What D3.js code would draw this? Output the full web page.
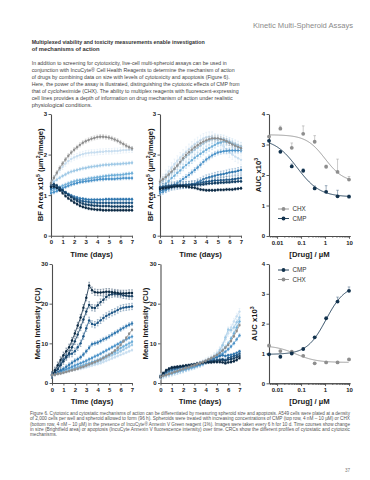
<!DOCTYPE html>
<html>
<head>
<meta charset="utf-8">
<script src="https://cdn.jsdelivr.net/npm/d3@7/dist/d3.min.js"></script>
<style>
  body { margin: 0; background: #fff; }
  svg { display: block; }
</style>
</head>
<body>
<div id="chart"></div>
<script>
// time points, every 6 h over 7 days
var days = [0, 0.25, 0.5, 0.75, 1, 1.25, 1.5, 1.75, 2, 2.25, 2.5, 2.75, 3, 3.25, 3.5,
  3.75, 4, 4.25, 4.5, 4.75, 5, 5.25, 5.5, 5.75, 6, 6.25, 6.5, 6.75, 7];

// series order: vehicle (grey), then lowest -> highest concentration
var seriesColors = ["#8e8e8e", "#c8def0", "#9fc9e6", "#6eaed8", "#4b93c9", "#2e76ae", "#1d5686", "#143f63", "#0c2a44"];
var errColors = ["#b4b4b4", "#dbe9f5", "#c3ddef", "#a0c9e6", "#88b7dc", "#6f9dc5", "#5d84a7", "#50708f", "#405b75"];

// brightfield area x10^5, CMP
var bfCMP = [
  [1.30,1.43,1.55,1.67,1.78,1.88,1.97,2.05,2.12,2.18,2.24,2.29,2.33,2.36,2.39,2.41,2.43,2.44,2.44,2.43,2.42,2.40,2.37,2.34,2.30,2.26,2.22,2.18,2.15],
  [1.30,1.42,1.52,1.62,1.70,1.78,1.84,1.89,1.93,1.96,1.99,2.01,2.03,2.04,2.05,2.05,2.06,2.07,2.07,2.08,2.08,2.08,2.09,2.09,2.10,2.11,2.11,2.12,2.12],
  [1.28,1.33,1.38,1.43,1.47,1.51,1.55,1.58,1.60,1.62,1.64,1.66,1.67,1.69,1.70,1.71,1.72,1.73,1.74,1.75,1.75,1.76,1.76,1.77,1.77,1.78,1.78,1.79,1.80],
  [1.10,1.13,1.16,1.20,1.23,1.26,1.29,1.32,1.34,1.36,1.37,1.38,1.39,1.41,1.42,1.43,1.44,1.45,1.46,1.47,1.48,1.49,1.49,1.50,1.50,1.51,1.52,1.53,1.54],
  [1.05,1.07,1.10,1.14,1.17,1.20,1.23,1.26,1.28,1.30,1.32,1.33,1.34,1.35,1.36,1.37,1.38,1.39,1.39,1.40,1.40,1.40,1.40,1.41,1.41,1.42,1.42,1.42,1.42],
  [1.15,1.18,1.18,1.14,1.10,1.06,1.02,0.99,0.96,0.94,0.92,0.91,0.90,0.89,0.89,0.89,0.89,0.89,0.89,0.90,0.90,0.90,0.90,0.90,0.90,0.90,0.90,0.90,0.90],
  [1.22,1.24,1.22,1.17,1.12,1.07,1.02,0.97,0.93,0.90,0.87,0.85,0.84,0.83,0.82,0.82,0.81,0.81,0.81,0.81,0.81,0.81,0.81,0.81,0.81,0.81,0.81,0.81,0.81],
  [1.25,1.27,1.24,1.18,1.12,1.06,1.00,0.95,0.90,0.86,0.82,0.79,0.77,0.76,0.75,0.74,0.74,0.73,0.73,0.73,0.73,0.72,0.72,0.72,0.72,0.72,0.72,0.72,0.72],
  [1.20,1.21,1.18,1.12,1.05,0.98,0.92,0.87,0.82,0.78,0.74,0.71,0.69,0.67,0.66,0.65,0.64,0.64,0.63,0.63,0.63,0.63,0.63,0.63,0.63,0.63,0.63,0.63,0.63]
];
var bfCMPErr = [0.05, 0.07, 0.04, 0.04, 0.04, 0.03, 0.03, 0.03, 0.03];

// brightfield area x10^5, CHX
var bfCHX = [
  [1.33,1.39,1.45,1.51,1.58,1.65,1.73,1.82,1.91,1.99,2.06,2.12,2.18,2.23,2.28,2.32,2.35,2.38,2.40,2.40,2.40,2.38,2.36,2.33,2.29,2.25,2.22,2.19,2.16],
  [1.30,1.40,1.50,1.59,1.68,1.77,1.85,1.93,2.00,2.07,2.14,2.20,2.26,2.31,2.36,2.40,2.43,2.44,2.44,2.40,2.35,2.28,2.20,2.12,2.05,2.00,1.95,1.91,1.87],
  [1.28,1.35,1.42,1.49,1.56,1.64,1.72,1.80,1.87,1.94,2.00,2.06,2.12,2.17,2.22,2.27,2.32,2.35,2.38,2.39,2.40,2.39,2.38,2.35,2.32,2.29,2.26,2.23,2.20],
  [1.15,1.21,1.28,1.35,1.42,1.48,1.55,1.61,1.68,1.74,1.80,1.86,1.92,1.97,2.02,2.07,2.12,2.16,2.20,2.24,2.28,2.30,2.32,2.31,2.30,2.26,2.22,2.18,2.15],
  [1.05,1.08,1.12,1.16,1.20,1.25,1.30,1.35,1.40,1.45,1.50,1.56,1.62,1.68,1.75,1.82,1.88,1.93,1.98,2.02,2.05,2.07,2.08,2.09,2.10,2.10,2.10,2.10,2.10],
  [1.10,1.13,1.15,1.18,1.20,1.21,1.22,1.23,1.24,1.25,1.26,1.27,1.28,1.32,1.35,1.39,1.42,1.44,1.46,1.48,1.50,1.51,1.52,1.54,1.56,1.57,1.58,1.60,1.62],
  [1.20,1.21,1.22,1.23,1.24,1.25,1.25,1.25,1.25,1.26,1.26,1.27,1.27,1.29,1.30,1.32,1.33,1.34,1.35,1.36,1.36,1.37,1.37,1.38,1.38,1.39,1.40,1.41,1.42],
  [1.18,1.19,1.20,1.21,1.22,1.23,1.23,1.24,1.24,1.24,1.24,1.25,1.25,1.26,1.26,1.27,1.28,1.29,1.29,1.30,1.30,1.31,1.31,1.32,1.32,1.33,1.33,1.34,1.34],
  [1.15,1.17,1.18,1.19,1.20,1.21,1.22,1.22,1.22,1.21,1.20,1.19,1.18,1.16,1.14,1.13,1.12,1.12,1.12,1.12,1.13,1.13,1.13,1.14,1.14,1.14,1.15,1.16,1.17]
];
var bfCHXErr = [0.06, 0.12, 0.10, 0.08, 0.06, 0.08, 0.08, 0.03, 0.03];

// annexin V mean intensity (CU), CMP
var anxCMP = [
  [2.0,2.1,2.3,2.4,2.6,2.8,3.0,3.2,3.4,3.6,3.9,4.1,4.4,4.7,5.0,5.3,5.6,5.9,6.3,6.7,7.1,7.6,8.2,8.9,9.6,10.5,11.4,12.4,13.4],
  [2.0,2.2,2.3,2.5,2.6,2.8,3.0,3.2,3.3,3.5,3.6,3.8,4.0,4.2,4.4,4.6,4.8,5.0,5.3,5.6,5.9,6.2,6.5,6.8,7.1,7.4,7.7,8.0,8.3],
  [2.0,2.2,2.4,2.6,2.8,3.0,3.2,3.4,3.6,3.8,4.0,4.2,4.4,4.6,4.8,5.0,5.3,5.6,6.0,6.3,6.7,7.0,7.3,7.6,8.0,8.4,8.8,9.2,9.6],
  [2.0,2.3,2.5,2.8,3.0,3.2,3.4,3.6,3.8,4.0,4.3,4.5,4.8,5.0,5.3,5.5,5.8,6.1,6.5,6.9,7.2,7.5,7.8,8.3,8.8,9.2,9.6,10.0,10.4],
  [2.0,2.3,2.6,2.9,3.2,3.5,3.8,4.1,4.4,4.7,5.0,5.3,5.6,6.0,6.3,6.7,7.0,7.4,7.8,8.2,8.6,9.0,9.4,9.8,10.2,10.6,11.0,11.4,11.7],
  [2.0,2.4,2.8,3.2,3.6,4.1,4.6,5.1,5.6,6.0,6.5,7.2,8.0,8.9,9.8,10.0,10.2,10.6,11.0,11.3,11.7,12.2,12.6,13.0,13.5,13.9,14.3,14.7,15.0],
  [2.0,2.6,3.5,4.8,6.0,6.8,7.2,7.4,8.0,9.0,10.0,11.8,13.8,15.8,14.9,14.7,15.2,15.8,16.4,16.9,17.3,17.7,18.0,18.4,18.8,19.0,19.1,19.2,19.3],
  [2.0,2.7,3.5,4.5,5.5,6.5,7.5,9.0,10.5,12.2,14.0,16.0,18.0,19.7,19.0,18.9,19.6,20.4,21.0,21.7,22.2,22.4,22.5,22.4,22.3,22.1,22.0,21.9,21.9],
  [2.0,3.2,4.5,5.8,7.0,8.0,9.0,10.7,12.5,14.5,16.5,19.0,21.5,24.6,23.4,22.9,22.8,22.8,22.9,23.0,23.0,22.9,22.8,22.7,22.6,22.6,22.6,22.7,22.7]
];
var anxCMPErr = [0.3, 0.3, 0.3, 0.4, 0.4, 0.5, 0.8, 0.8, 0.8];

// annexin V mean intensity (CU), CHX
var anxCHX = [
  [1.6,1.8,2.0,2.3,2.5,2.8,3.0,3.3,3.5,3.8,4.0,4.3,4.5,4.8,5.0,5.3,5.6,6.0,6.3,6.7,7.1,7.6,8.2,8.9,9.6,10.6,11.8,13.1,14.6],
  [1.6,1.8,2.0,2.2,2.4,2.7,2.9,3.1,3.3,3.6,3.8,4.1,4.3,4.6,4.8,5.1,5.5,5.9,6.3,6.9,7.5,8.4,9.5,11.0,12.5,14.0,15.5,16.8,18.0],
  [1.6,1.8,2.0,2.2,2.4,2.6,2.8,3.0,3.2,3.5,3.7,4.0,4.2,4.5,4.7,5.0,5.4,5.8,6.2,6.7,7.3,8.3,9.5,11.5,13.5,13.3,14.0,15.3,16.5],
  [1.6,1.8,2.0,2.2,2.4,2.6,2.8,3.0,3.2,3.4,3.6,3.8,4.0,4.3,4.5,4.8,5.2,5.6,6.0,6.4,6.8,7.5,8.2,9.1,10.0,11.2,12.5,14.0,15.5],
  [1.6,1.9,2.1,2.4,2.6,2.8,3.0,3.2,3.4,3.6,3.8,4.0,4.2,4.4,4.6,4.9,5.2,5.5,5.8,6.2,6.6,7.0,7.4,7.9,8.5,9.2,10.0,11.0,12.0],
  [1.6,2.1,2.5,2.9,3.2,3.4,3.6,3.8,3.9,4.1,4.2,4.4,4.6,4.8,5.0,5.2,5.5,5.8,6.0,6.3,6.5,6.8,7.0,6.8,7.0,7.1,7.3,7.6,8.0],
  [1.6,2.3,2.8,3.3,3.6,3.8,3.9,4.0,4.1,4.2,4.3,4.5,4.6,4.8,5.0,5.2,5.3,5.5,5.6,5.7,5.8,5.9,6.0,5.8,6.3,6.5,6.8,7.0,7.4],
  [1.6,2.4,3.0,3.5,3.8,3.9,4.0,4.1,4.2,4.3,4.4,4.5,4.6,4.8,4.9,5.1,5.2,5.3,5.4,5.5,5.6,5.7,5.8,5.6,5.9,6.0,6.2,6.5,6.8],
  [1.6,2.5,3.2,3.6,3.9,4.0,4.1,4.2,4.3,4.4,4.5,4.6,4.7,4.9,5.0,5.1,5.2,5.2,5.2,5.3,5.3,5.3,5.2,5.0,5.2,5.3,5.5,5.8,6.3]
];
var anxCHXErr = [0.3, 0.8, 0.6, 0.5, 0.4, 0.3, 0.3, 0.3, 0.3];

// concentration response (uM)
var conc = [0.0046, 0.0137, 0.041, 0.123, 0.37, 1.11, 3.33, 10];
var aucBfCMP = [3.12, 2.76, 2.28, 2.14, 1.56, 1.45, 1.30, 1.29];
var aucBfCMPErr = [0, 0.04, 0.08, 0.06, 0.08, 0.2, 0.2, 0.05];
var aucBfCHX = [3.26, 3.52, 2.89, 3.35, 3.09, 2.27, 2.10, 1.85];
var aucBfCHXErr = [0, 0.08, 0.16, 0.26, 0.2, 0.05, 0.42, 0.1];
var aucAnxCMP = [0.97, 0.89, 1.00, 1.15, 1.54, 2.18, 2.74, 3.10];
var aucAnxCMPErr = [0, 0, 0, 0, 0, 0.05, 0.15, 0.13];
var aucAnxCHX = [1.26, 1.08, 1.06, 0.92, 0.67, 0.70, 0.70, 0.80];
var aucAnxCHXErr = [0.05, 0, 0, 0, 0, 0, 0, 0.03];

// 4PL fit parameters
var fitBfCMP = { low: 3.2, high: 1.28, ec50: 0.069, hill: 0.92 };
var fitBfCHX = { low: 3.32, high: 1.75, ec50: 1.0, hill: 1.1 };
var fitAnxCMP = { low: 0.97, high: 3.3, ec50: 1.1, hill: 1.1 };
var fitAnxCHX = { low: 1.27, high: 0.7, ec50: 0.06, hill: 1.0 };

var cmpColor = "#12324d";
var chxColor = "#8e8e8e";

var headerText = "Kinetic Multi-Spheroid Assays";
var titleLines = ["Multiplexed viability and toxicity measurements enable investigation",
  "of mechanisms of action"];
var paraLines = [
  "In addition to screening for cytotoxicity, live-cell multi-spheroid assays can be used in",
  "conjunction with IncuCyte\u00ae Cell Health Reagents to determine the mechanism of action",
  "of drugs by combining data on size with levels of cytotoxicity and apoptosis (Figure 6).",
  "Here, the power of the assay is illustrated, distinguishing the cytotoxic effects of CMP from",
  "that of cycloheximide (CHX). The ability to multiplex reagents with fluorescent-expressing",
  "cell lines provides a depth of information on drug mechanism of action under realistic",
  "physiological conditions."
];
var captionLines = [
  "Figure 6. Cytotoxic and cytostatic mechanisms of action can be differentiated by measuring spheroid size and apoptosis.  A549 cells were plated at a density",
  "of 2,000 cells per well and spheroid allowed to form (96 h).  Spheroids were treated with increasing concentrations of CMP (top row, 4 nM \u2013 10 \u00b5M) or CHX",
  "(bottom row, 4 nM \u2013 10 \u00b5M) in the presence of IncuCyte\u00ae Annexin V Green reagent (1%).  Images were taken every 6 h for 10 d. Time courses show change",
  "in size (Brightfield area) or apoptosis (IncuCyte Annexin V fluorescence intensity) over time.  CRCs show the different profiles of cytostatic and cytotoxic",
  "mechanisms."
];

var svg = d3.select("#chart").append("svg")
  .attr("width", 370)
  .attr("height", 480)
  .style("background", "#fff");

var chartFont = "'Liberation Sans', Arial, Helvetica, sans-serif";
var proseFont = "'Liberation Sans Narrow', 'Arial Narrow', 'Liberation Sans', sans-serif";

// ---- page text ----
svg.append("text")
  .attr("x", 353).attr("y", 27.5)
  .attr("text-anchor", "end")
  .attr("font-family", proseFont)
  .attr("font-size", 7.6)
  .attr("fill", "#8a8a8a")
  .text(headerText);

function textBlock(lines, x, y0, lh, size, weight, fill, widths) {
  var g = svg.append("g")
    .attr("font-family", proseFont)
    .attr("font-size", size)
    .attr("font-weight", weight)
    .attr("fill", fill);
  lines.forEach(function(l, i) {
    var t = g.append("text")
      .attr("x", x).attr("y", y0 + i * lh)
      .text(l);
    if (widths && widths[i]) t.attr("textLength", widths[i]).attr("lengthAdjust", "spacingAndGlyphs");
  });
}

textBlock(titleLines, 31.7, 43.6, 6.9, 5.8, "bold", "#333", [173, 0]);
textBlock(paraLines, 31.7, 64.6, 7.07, 5.6, "normal", "#444", [195, 203, 198, 208, 207, 201, 0]);
textBlock(captionLines, 30, 414.9, 5.35, 4.6, "normal", "#555", [320, 320, 320, 320, 0]);

svg.append("text")
  .attr("x", 350).attr("y", 471.5)
  .attr("text-anchor", "end")
  .attr("font-family", proseFont)
  .attr("font-size", 4.6)
  .attr("fill", "#777")
  .text("37");

// ---- shared axis styling ----
function styleAxis(g) {
  g.select(".domain").attr("stroke", "#4d4d4d").attr("stroke-width", 1.1);
  g.selectAll(".tick line").attr("stroke", "#4d4d4d").attr("stroke-width", 0.9);
  g.selectAll(".tick text")
    .attr("font-family", chartFont)
    .attr("font-weight", "bold")
    .attr("font-size", 6)
    .attr("fill", "#222");
}

function yTitle(x, y, parts) {
  var t = svg.append("text")
    .attr("transform", "translate(" + x + "," + y + ") rotate(-90)")
    .attr("text-anchor", "middle")
    .attr("font-family", chartFont)
    .attr("font-weight", "bold")
    .attr("font-size", 7.7)
    .attr("fill", "#1a1a1a");
  parts.forEach(function(p) {
    var s = t.append("tspan").text(p.t);
    if (p.sup) s.attr("font-size", 5.2).attr("dy", -3);
    if (p.after) s.attr("dy", 3);
  });
}

function xTitle(x, y, label) {
  svg.append("text")
    .attr("x", x).attr("y", y)
    .attr("text-anchor", "middle")
    .attr("font-family", chartFont)
    .attr("font-weight", "bold")
    .attr("font-size", 7.7)
    .attr("fill", "#1a1a1a")
    .text(label);
}

function timePanel(o) {
  var x = d3.scaleLinear().domain([0, 7]).range([o.x0, o.x1]);
  var y = d3.scaleLinear().domain([0, o.yMax]).range([o.yB, o.yT]);

  svg.append("g")
    .attr("transform", "translate(0," + o.yB + ")")
    .call(d3.axisBottom(x).tickValues(d3.range(0, 8)).tickFormat(d3.format("d"))
      .tickSize(2.5).tickPadding(2).tickSizeOuter(0))
    .call(styleAxis);
  svg.append("g")
    .attr("transform", "translate(" + o.x0 + ",0)")
    .call(d3.axisLeft(y).tickValues(o.yTicks).tickFormat(d3.format("d"))
      .tickSize(2.5).tickPadding(1.5).tickSizeOuter(0))
    .call(styleAxis);

  var line = d3.line()
    .x(function(d, i) { return x(days[i]); })
    .y(function(d) { return y(d); });

  // draw blues light -> dark, then vehicle on top
  var order = d3.range(1, o.data.length).concat([0]);
  order.forEach(function(k) {
    var vals = o.data[k];
    var e = o.err[k];
    var g = svg.append("g");
    g.selectAll(".eb").data(vals).join("path")
      .attr("d", function(d, i) {
        var xx = x(days[i]), a = y(d + e), b = y(d - e);
        return "M" + xx + "," + a + "V" + b + "M" + (xx - 0.9) + "," + a + "H" + (xx + 0.9) +
          "M" + (xx - 0.9) + "," + b + "H" + (xx + 0.9);
      })
      .attr("stroke", errColors[k])
      .attr("stroke-width", 0.5)
      .attr("fill", "none");
    g.append("path")
      .attr("d", line(vals))
      .attr("fill", "none")
      .attr("stroke", seriesColors[k])
      .attr("stroke-width", 0.8);
    g.selectAll("circle").data(vals).join("circle")
      .attr("cx", function(d, i) { return x(days[i]); })
      .attr("cy", function(d) { return y(d); })
      .attr("r", 1.2)
      .attr("fill", seriesColors[k]);
  });

  xTitle((o.x0 + o.x1) / 2, o.yB + 21, "Time (days)");
  yTitle(o.labelX, (o.yB + o.yT) / 2, o.yLabel);
}

function crcPanel(o) {
  var x = d3.scaleLog().domain([0.0046, 11]).range([269, 350]);
  var y = d3.scaleLinear().domain([0, 4]).range([o.yB, o.yT]);

  var minor = [];
  [0.001, 0.01, 0.1, 1].forEach(function(dec) {
    for (var m = 2; m <= 9; m++) {
      var v = dec * m;
      if (v >= 0.0046 && v <= 11) minor.push(v);
    }
  });
  svg.append("g")
    .attr("transform", "translate(0," + o.yB + ")")
    .call(d3.axisBottom(x).tickValues(minor).tickSize(1.6).tickFormat("").tickSizeOuter(0))
    .call(styleAxis);
  svg.append("g")
    .attr("transform", "translate(0," + o.yB + ")")
    .call(d3.axisBottom(x).tickValues([0.01, 0.1, 1, 10]).tickSize(2.8).tickPadding(1.8)
      .tickFormat(function(d) { return d < 1 ? String(d) : d3.format("d")(d); }).tickSizeOuter(0))
    .call(styleAxis);
  svg.append("g")
    .attr("transform", "translate(269,0)")
    .call(d3.axisLeft(y).tickValues([0, 1, 2, 3, 4]).tickFormat(d3.format("d"))
      .tickSize(2.5).tickPadding(1.5).tickSizeOuter(0))
    .call(styleAxis);

  o.series.forEach(function(s) {
    var g = svg.append("g");
    var fitPts = d3.range(Math.log10(0.0046), Math.log10(10) + 0.001, 0.02).map(function(l) {
      var c = Math.pow(10, l);
      return [x(c), y(s.fit.high + (s.fit.low - s.fit.high) / (1 + Math.pow(c / s.fit.ec50, s.fit.hill)))];
    });
    g.append("path")
      .attr("d", d3.line()(fitPts))
      .attr("fill", "none")
      .attr("stroke", s.color)
      .attr("stroke-width", 0.9);
    g.selectAll(".eb").data(s.vals).join("path")
      .attr("d", function(d, i) {
        if (!s.err[i]) return null;
        var xx = x(conc[i]), a = y(d + s.err[i]), b = y(d);
        return "M" + xx + "," + b + "V" + a + "M" + (xx - 1.3) + "," + a + "H" + (xx + 1.3);
      })
      .attr("stroke", s.errColor)
      .attr("stroke-width", 0.6)
      .attr("fill", "none");
    g.selectAll("circle").data(s.vals).join("circle")
      .attr("cx", function(d, i) { return x(conc[i]); })
      .attr("cy", function(d) { return y(d); })
      .attr("r", 1.9)
      .attr("fill", s.color);
  });

  // legend
  o.legend.forEach(function(s, i) {
    var ly = o.legendY + i * 9.5;
    svg.append("line")
      .attr("x1", 278).attr("x2", 289).attr("y1", ly).attr("y2", ly)
      .attr("stroke", s.color).attr("stroke-width", 0.9);
    svg.append("circle")
      .attr("cx", 283.5).attr("cy", ly).attr("r", 1.9).attr("fill", s.color);
    svg.append("text")
      .attr("x", 292.5).attr("y", ly + 2.2)
      .attr("font-family", chartFont)
      .attr("font-size", 6.3)
      .attr("fill", "#333")
      .text(s.name);
  });

  xTitle(309.5, o.yB + 21, "[Drug] / \u00b5M");
  yTitle(o.labelX, (o.yB + o.yT) / 2, [{ t: "AUC x10" }, { t: "3", sup: true }]);
}

var bfLabel = [{ t: "BF Area x10" }, { t: "5", sup: true }, { t: " (\u00b5m", after: true },
  { t: "2", sup: true }, { t: "/image)", after: true }];
var anxLabel = [{ t: "Mean Intensity (CU)" }];

timePanel({ x0: 51, x1: 132, yB: 235.7, yT: 114, yMax: 3, yTicks: [0, 1, 2, 3],
  data: bfCMP, err: bfCMPErr, yLabel: bfLabel, labelX: 42.5 });
timePanel({ x0: 160, x1: 241, yB: 235.7, yT: 114, yMax: 3, yTicks: [0, 1, 2, 3],
  data: bfCHX, err: bfCHXErr, yLabel: bfLabel, labelX: 153 });
timePanel({ x0: 52, x1: 132, yB: 383, yT: 264, yMax: 30, yTicks: [0, 10, 20, 30],
  data: anxCMP, err: anxCMPErr, yLabel: anxLabel, labelX: 39.5 });
timePanel({ x0: 160.5, x1: 239.5, yB: 383, yT: 264, yMax: 30, yTicks: [0, 10, 20, 30],
  data: anxCHX, err: anxCHXErr, yLabel: anxLabel, labelX: 148 });

var chxBf = { name: "CHX", color: chxColor, errColor: "#a8a8a8", vals: aucBfCHX, err: aucBfCHXErr, fit: fitBfCHX };
var cmpBf = { name: "CMP", color: cmpColor, errColor: "#5d7790", vals: aucBfCMP, err: aucBfCMPErr, fit: fitBfCMP };
var chxAnx = { name: "CHX", color: chxColor, errColor: "#a8a8a8", vals: aucAnxCHX, err: aucAnxCHXErr, fit: fitAnxCHX };
var cmpAnx = { name: "CMP", color: cmpColor, errColor: "#5d7790", vals: aucAnxCMP, err: aucAnxCMPErr, fit: fitAnxCMP };

crcPanel({ yB: 236, yT: 114, series: [chxBf, cmpBf], legend: [chxBf, cmpBf], legendY: 209, labelX: 260.5 });
crcPanel({ yB: 383.3, yT: 264, series: [chxAnx, cmpAnx], legend: [cmpAnx, chxAnx], legendY: 270, labelX: 256.5 });
</script>
</body>
</html>
